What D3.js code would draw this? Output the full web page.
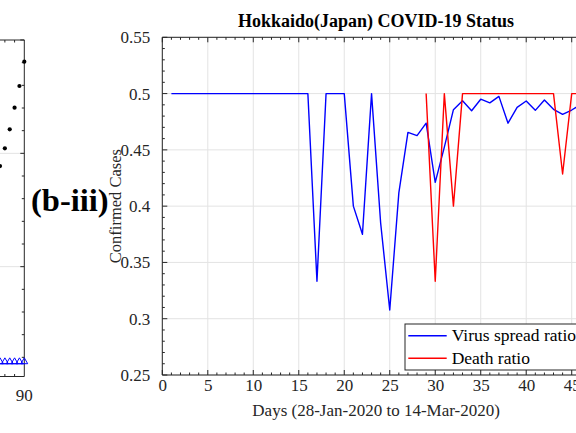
<!DOCTYPE html>
<html><head><meta charset="utf-8">
<script src="https://cdn.jsdelivr.net/npm/d3@7"></script>
<style>
body{margin:0;background:#fff;}
svg{display:block;}
svg text{font-family:"Liberation Serif","Times New Roman",serif;}
</style>
</head><body>
<svg id="c" width="576" height="433"></svg>
<script>
// ---------- data (main chart) ----------
const days = [1,2,3,4,5,6,7,8,9,10,11,12,13,14,15,16,17,18,19,20,21,22,23,24,25,26,27,28,29,30,31,32,33,34,35,36,37,38,39,40,41,42,43,44,45,46,47];
const spreadRatio = [0.5,0.5,0.5,0.5,0.5,0.5,0.5,0.5,0.5,0.5,0.5,0.5,0.5,0.5,0.5,0.5,
  0.3333,0.5,0.5,0.5,0.4,0.375,0.5,0.385,0.3077,0.4118,0.4655,0.4627,0.4737,0.4211,
  0.4524,0.4857,0.4937,0.4848,0.495,0.4918,0.4975,0.4737,0.4878,0.4934,0.4851,0.4943,
  0.486,0.4816,0.4854,0.4905,0.492];
const deathRatio = [null,null,null,null,null,null,null,null,null,null,null,null,null,null,null,null,
  null,null,null,null,null,null,null,null,null,null,null,null,0.5,0.3333,
  0.5,0.4,0.5,0.5,0.5,0.5,0.5,0.5,0.5,0.5,0.5,0.5,
  0.5,0.4286,0.5,0.5,0.5];
const xTicks = [0,5,10,15,20,25,30,35,40,45];
const yTicks = [0.25,0.3,0.35,0.4,0.45,0.5,0.55];
const seriesNames = ["Virus spread ratio","Death ratio"];
const seriesColors = ["#0000ff","#ff0000"];

// ---------- data (neighbouring panel, partly visible) ----------
const leftDays = [84,85,86,87,88,89,90];
const leftCases = [1750,1888,2044,2212,2403,2594,2809];
const leftDeaths = [161,161,161,161,161,161,161];
const leftXTicks = [90];
const leftYGrid = [1000,2000];

const svg = d3.select("#c");
const axisCol = "#262626";
const gridCol = "#e3e3e3";
const SERIF = '"Liberation Serif","Times New Roman",serif';

// ================= left (cropped) panel =================
const xL = d3.scaleLinear().domain([85,90]).range([0,24.3]);
const yL = d3.scaleLinear().domain([0,3000]).range([380,40]);
const lTop = yL(3000), lBot = 376.5, lRight = xL(90);
const gL = svg.append("g");
leftYGrid.forEach(v=>{
  gL.append("line").attr("x1",-5).attr("x2",lRight).attr("y1",yL(v)).attr("y2",yL(v))
    .attr("stroke",gridCol).attr("stroke-width",1);
});
d3.range(0,3001,200).forEach(v=>{
  const yy = yL(v); if (yy < lTop || yy > lBot) return;
  const len = (v % 1000 === 0) ? 4 : 2.5;
  gL.append("line").attr("x1",lRight-len).attr("x2",lRight).attr("y1",yy).attr("y2",yy)
    .attr("stroke",axisCol).attr("stroke-width",1);
});
[86,88].forEach(v=>{
  gL.append("line").attr("x1",xL(v)).attr("x2",xL(v)).attr("y1",lTop).attr("y2",lTop+2.5).attr("stroke",axisCol);
  gL.append("line").attr("x1",xL(v)).attr("x2",xL(v)).attr("y1",lBot).attr("y2",lBot-2.5).attr("stroke",axisCol);
});
gL.append("path").attr("d",`M-5,${lTop}H${lRight}V${lBot}H-5`).attr("fill","none").attr("stroke",axisCol).attr("stroke-width",1);
leftXTicks.forEach(v=>{
  gL.append("text").attr("x",xL(v)).attr("y",lBot+24).attr("text-anchor","middle")
    .style("font-family",SERIF).attr("font-size",17).attr("fill",axisCol).text(v);
});
gL.append("path").datum(leftDays)
  .attr("d",d3.line().x(d=>xL(d)).y((d,i)=>yL(leftDeaths[i])+2))
  .attr("fill","none").attr("stroke","#0000ff").attr("stroke-width",1);
gL.selectAll("path.tri").data(leftDays).join("path").attr("class","tri")
  .attr("transform",(d,i)=>`translate(${xL(d)},${yL(leftDeaths[i])})`)
  .attr("d",d3.symbol(d3.symbolTriangle,20))
  .attr("fill","none").attr("stroke","#0000ff").attr("stroke-width",1);
gL.selectAll("circle.dot").data(leftDays).join("circle").attr("class","dot")
  .attr("cx",d=>xL(d)).attr("cy",(d,i)=>yL(leftCases[i])).attr("r",2.1).attr("fill","#000");

// panel label
svg.append("text").attr("x",31).attr("y",211).style("font-family",SERIF).attr("font-size",32.5).attr("font-weight","bold")
  .attr("fill","#000").text("(b-iii)");

// ================= main chart =================
const M = {left:162.3, right:589.9, top:37.3, bottom:375};
const x = d3.scaleLinear().domain([0,47]).range([M.left,M.right]);
const y = d3.scaleLinear().domain([0.25,0.55]).range([M.bottom,M.top]);

const g = svg.append("g");
xTicks.forEach(v=>{
  g.append("line").attr("x1",x(v)).attr("x2",x(v)).attr("y1",M.top).attr("y2",M.bottom)
    .attr("stroke",gridCol).attr("stroke-width",1);
});
yTicks.forEach(v=>{
  g.append("line").attr("x1",M.left).attr("x2",M.right).attr("y1",y(v)).attr("y2",y(v))
    .attr("stroke",gridCol).attr("stroke-width",1);
});

const lineGen = arr => d3.line().defined((d,i)=>arr[i]!==null).x(d=>x(d)).y((d,i)=>y(arr[i]));
g.append("path").datum(days).attr("d",lineGen(spreadRatio)).attr("fill","none")
  .attr("stroke",seriesColors[0]).attr("stroke-width",1.4).attr("stroke-linejoin","round");
g.append("path").datum(days).attr("d",lineGen(deathRatio)).attr("fill","none")
  .attr("stroke",seriesColors[1]).attr("stroke-width",1.4).attr("stroke-linejoin","round");

const xMinor = d3.range(0,48,1);
const yMinor = d3.range(0,31,1);
const ax = g.append("g").attr("stroke",axisCol);
xMinor.forEach(v=>{
  const len = (v%5===0)?5:2.5;
  ax.append("line").attr("x1",x(v)).attr("x2",x(v)).attr("y1",M.bottom).attr("y2",M.bottom-len);
  ax.append("line").attr("x1",x(v)).attr("x2",x(v)).attr("y1",M.top).attr("y2",M.top+len);
});
yMinor.forEach(i=>{
  const v = 0.25 + i*0.01;
  const len = (i%5===0)?5:2.5;
  ax.append("line").attr("x1",M.left).attr("x2",M.left+len).attr("y1",y(v)).attr("y2",y(v));
});
const xAxis = d3.axisBottom(x).tickValues(xTicks).tickSize(0).tickPadding(4).tickFormat(d3.format("d"));
const yAxis = d3.axisLeft(y).tickValues(yTicks).tickSize(0).tickPadding(12).tickFormat(d=>String(+d.toFixed(2)));
const gx = g.append("g").attr("transform",`translate(0,${M.bottom})`).call(xAxis);
const gy = g.append("g").attr("transform",`translate(${M.left},0)`).call(yAxis);
[gx,gy].forEach(a=>{
  a.attr("font-family",null).attr("font-size",null);
  a.select(".domain").remove();
  a.selectAll("text").style("font-family",SERIF).attr("font-size",17).attr("fill",axisCol);
});
g.append("line").attr("x1",M.left).attr("x2",M.right).attr("y1",M.bottom).attr("y2",M.bottom).attr("stroke",axisCol);
g.append("line").attr("x1",M.left).attr("x2",M.right).attr("y1",M.top).attr("y2",M.top).attr("stroke",axisCol);
g.append("line").attr("x1",M.left).attr("x2",M.left).attr("y1",M.top).attr("y2",M.bottom).attr("stroke",axisCol);

// titles
svg.append("text").attr("x",(M.left+M.right)/2).attr("y",27).attr("text-anchor","middle")
  .style("font-family",SERIF).attr("font-size",18).attr("font-weight","bold").attr("fill","#000")
  .text("Hokkaido(Japan) COVID-19 Status");
svg.append("text").attr("x",(M.left+M.right)/2).attr("y",416).attr("text-anchor","middle")
  .style("font-family",SERIF).attr("font-size",17).attr("fill",axisCol).text("Days (28-Jan-2020 to 14-Mar-2020)");
svg.append("text").attr("transform",`translate(121,${(M.top+M.bottom)/2}) rotate(-90)`)
  .attr("text-anchor","middle").style("font-family",SERIF).attr("font-size",16.5).attr("fill",axisCol).text("Confirmed Cases");

// legend
const lg = svg.append("g").attr("transform","translate(405,324)");
lg.append("rect").attr("x",0).attr("y",0).attr("width",200).attr("height",46)
  .attr("fill","#fff").attr("stroke",axisCol).attr("stroke-width",1);
seriesNames.forEach((n,i)=>{
  const yy = 11.7 + i*22.6;
  lg.append("line").attr("x1",3.3).attr("x2",41.7).attr("y1",yy).attr("y2",yy)
    .attr("stroke",seriesColors[i]).attr("stroke-width",1.4);
  lg.append("text").attr("x",46.7).attr("y",yy+5.5).style("font-family",SERIF).attr("font-size",17.5).attr("fill","#000").text(n);
});
</script>
</body></html>
